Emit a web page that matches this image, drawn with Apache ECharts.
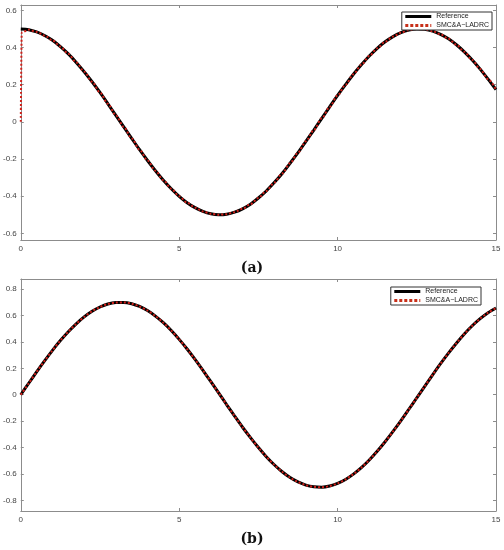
<!DOCTYPE html>
<html>
<head>
<meta charset="utf-8">
<script src="https://cdn.jsdelivr.net/npm/echarts@6/dist/echarts.min.js"></script>
<style>html,body{margin:0;padding:0;background:#fff}#c{width:504px;height:550px}</style>
</head>
<body>
<div id="c"></div>
<script>
// time samples (s)
var time = [0,0.25,0.5,0.75,1,1.25,1.5,1.75,2,2.25,2.5,2.75,3,3.25,3.5,3.75,4,4.25,4.5,4.75,5,5.25,5.5,5.75,6,6.25,6.5,6.75,7,7.25,7.5,7.75,8,8.25,8.5,8.75,9,9.25,9.5,9.75,10,10.25,10.5,10.75,11,11.25,11.5,11.75,12,12.25,12.5,12.75,13,13.25,13.5,13.75,14,14.25,14.5,14.75,15];
// panel (a) reference values
var refA = [0.500,0.496,0.484,0.465,0.439,0.405,0.366,0.320,0.270,0.216,0.158,0.097,0.035,-0.027,-0.089,-0.150,-0.208,-0.263,-0.314,-0.360,-0.401,-0.435,-0.462,-0.482,-0.495,-0.500,-0.497,-0.486,-0.468,-0.443,-0.410,-0.372,-0.327,-0.278,-0.223,-0.166,-0.105,-0.044,0.019,0.081,0.142,0.200,0.256,0.307,0.354,0.396,0.431,0.459,0.480,0.494,0.500,0.498,0.488,0.471,0.447,0.415,0.377,0.333,0.284,0.230,0.173];
// panel (a) SMC&A-LADRC: initial jump from 0, then tracking
var smcAtime = [0,0.03,0.25,0.5,0.75,1,1.25,1.5,1.75,2,2.25,2.5,2.75,3,3.25,3.5,3.75,4,4.25,4.5,4.75,5,5.25,5.5,5.75,6,6.25,6.5,6.75,7,7.25,7.5,7.75,8,8.25,8.5,8.75,9,9.25,9.5,9.75,10,10.25,10.5,10.75,11,11.25,11.5,11.75,12,12.25,12.5,12.75,13,13.25,13.5,13.75,14,14.25,14.5,14.75,15];
var smcA = [0.000,0.480,0.496,0.484,0.465,0.439,0.405,0.366,0.320,0.270,0.216,0.158,0.097,0.035,-0.027,-0.089,-0.150,-0.208,-0.263,-0.314,-0.360,-0.401,-0.435,-0.462,-0.482,-0.495,-0.500,-0.497,-0.486,-0.468,-0.443,-0.410,-0.372,-0.327,-0.278,-0.223,-0.166,-0.105,-0.044,0.019,0.081,0.142,0.200,0.256,0.307,0.354,0.396,0.431,0.459,0.480,0.494,0.500,0.498,0.488,0.471,0.447,0.415,0.377,0.333,0.284,0.230,0.173];
// panel (b) reference and SMC&A-LADRC values
var refB = [0.000,0.087,0.173,0.256,0.336,0.410,0.477,0.537,0.589,0.632,0.664,0.687,0.698,0.699,0.689,0.668,0.637,0.595,0.545,0.486,0.419,0.346,0.267,0.184,0.099,0.012,-0.076,-0.162,-0.246,-0.325,-0.400,-0.469,-0.530,-0.583,-0.627,-0.660,-0.684,-0.697,-0.700,-0.691,-0.671,-0.641,-0.601,-0.552,-0.494,-0.428,-0.356,-0.278,-0.196,-0.110,-0.023,0.064,0.151,0.235,0.315,0.390,0.460,0.522,0.576,0.621,0.657];
var smcB = [0.000,0.087,0.173,0.256,0.336,0.410,0.477,0.537,0.589,0.632,0.664,0.687,0.698,0.699,0.689,0.668,0.637,0.595,0.545,0.486,0.419,0.346,0.267,0.184,0.099,0.012,-0.076,-0.162,-0.246,-0.325,-0.400,-0.469,-0.530,-0.583,-0.627,-0.660,-0.684,-0.697,-0.700,-0.691,-0.671,-0.641,-0.601,-0.552,-0.494,-0.428,-0.356,-0.278,-0.196,-0.110,-0.023,0.064,0.151,0.235,0.315,0.390,0.460,0.522,0.576,0.621,0.657];
// tick labels
var xTicks = [0,5,10,15];
var yTicksA = [-0.6,-0.4,-0.2,0,0.2,0.4,0.6];
var yTicksB = [-0.8,-0.6,-0.4,-0.2,0,0.2,0.4,0.6,0.8];
var names = ['Reference','SMC&A\u2212LADRC'];

function pairs(xs, ys){ return xs.map(function(x,i){return [x, ys[i]];}); }

var axisCol = '#8c8c8c';

function xAx(gi, top){
  return {
    type:'value', gridIndex: gi, min:0, max:15, position: top?'top':'bottom',
    axisLine:{show:true, onZero:false, lineStyle:{color:axisCol, width:1}},
    axisTick:{show:true, inside:true, length:3, customValues: xTicks, lineStyle:{color:axisCol}},
    axisLabel:{show:!top, customValues: xTicks, margin:5, fontSize:8, color:'#444', fontFamily:'Liberation Sans'},
    splitLine:{show:false}
  };
}
function yAx(gi, right, mn, mx, ticks){
  return {
    type:'value', gridIndex: gi, min:mn, max:mx, position: right?'right':'left',
    axisLine:{show:true, onZero:false, lineStyle:{color:axisCol, width:1}},
    axisTick:{show:true, inside:true, length:3, customValues: ticks, lineStyle:{color:axisCol}},
    axisLabel:{show:!right, customValues: ticks, margin:4, fontSize:8, color:'#444', fontFamily:'Liberation Sans'},
    splitLine:{show:false}
  };
}

var refStyle = {color:'#000', width:3};
var smcStyle = {color:'#d0201a', width:2, type:[2,2]};
function legendAt(right, top){
  return {
    data:[
      {name:names[0], lineStyle:{color:'#000', width:3}},
      {name:names[1], lineStyle:{color:'#c8301a', width:3, type:[3,2]}}
    ],
    orient:'vertical', itemWidth:26, itemHeight:8, itemGap:2,
    borderColor:'#333', borderWidth:1, padding:[1,3,1,2], backgroundColor:'#fff',
    itemStyle:{color:'rgba(0,0,0,0)', borderColor:'rgba(0,0,0,0)', borderWidth:0},
    textStyle:{fontSize:7, color:'#222', fontFamily:'Liberation Sans'},
    right:right, top:top
  };
}

var option = {
  animation:false,
  backgroundColor:'#fff',
  title:[
    {text:'(a)', left:'center', top:256, textStyle:{fontFamily:'DejaVu Serif', fontWeight:'bold', fontSize:14, color:'#111'}},
    {text:'(b)', left:'center', top:527, textStyle:{fontFamily:'DejaVu Serif', fontWeight:'bold', fontSize:14, color:'#111'}}
  ],
  grid:[
    {left:18, top:5, width:478, height:235},
    {left:19, top:279, width:477, height:232}
  ],
  xAxis:[xAx(0,false), xAx(0,true), xAx(1,false), xAx(1,true)],
  yAxis:[yAx(0,false,-0.636,0.629,yTicksA), yAx(0,true,-0.636,0.629,yTicksA),
         yAx(1,false,-0.88,0.876,yTicksB), yAx(1,true,-0.88,0.876,yTicksB)],
  legend:[legendAt(12,12), legendAt(23,287)],
  series:[
    {name:names[0], type:'line', xAxisIndex:0, yAxisIndex:0, data:pairs(time, refA), smooth:0.3, showSymbol:false, symbol:'none', itemStyle:{color:'#000'}, lineStyle:refStyle, z:2},
    {name:names[1], type:'line', xAxisIndex:0, yAxisIndex:0, data:pairs(smcAtime, smcA), smooth:0.3, smoothMonotone:'x', showSymbol:false, symbol:'none', lineStyle:smcStyle, itemStyle:{color:'#d0201a'}, z:3},
    {name:names[0], type:'line', xAxisIndex:2, yAxisIndex:2, data:pairs(time, refB), smooth:0.3, showSymbol:false, symbol:'none', itemStyle:{color:'#000'}, lineStyle:refStyle, z:2},
    {name:names[1], type:'line', xAxisIndex:2, yAxisIndex:2, data:pairs(time, smcB), smooth:0.3, showSymbol:false, symbol:'none', lineStyle:smcStyle, itemStyle:{color:'#d0201a'}, z:3}
  ]
};
var ch = echarts.init(document.getElementById('c'), null, {renderer:'canvas'});
ch.setOption(option);
</script>
</body>
</html>
